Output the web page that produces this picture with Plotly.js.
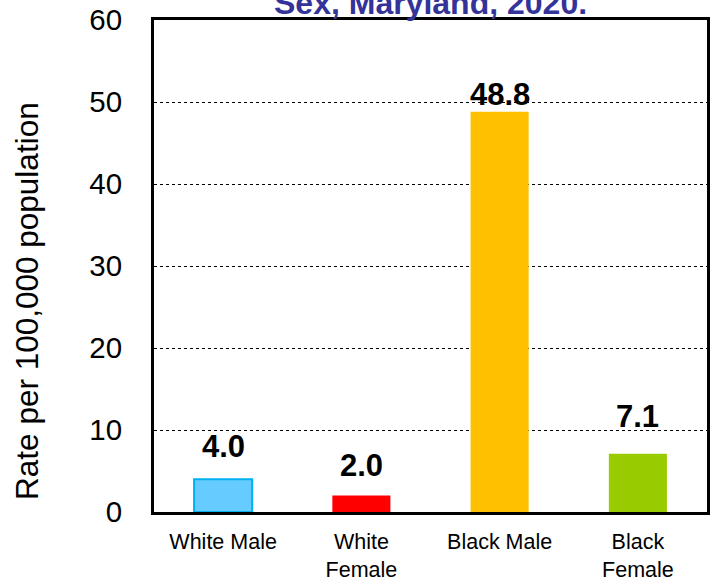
<!DOCTYPE html>
<html>
<head>
<meta charset="utf-8">
<script src="https://cdn.plot.ly/plotly-3.0.1.min.js"></script>
<style>html,body{margin:0;padding:0;background:#fff;}#chart{width:714px;height:579px;}</style>
</head>
<body>
<div id="chart"></div>
<script>
var categories = ["White Male", "White<br>Female", "Black Male", "Black<br>Female"];
var rates = [4.0, 2.0, 48.8, 7.1];
var rateLabels = ["4.0", "2.0", "48.8", "7.1"];
var yTickVals = [0, 10, 20, 30, 40, 50, 60];
var titleText = "Sex, Maryland, 2020.";
var yAxisTitle = "Rate per 100,000 population";

var fillColors = ["#66CCFF", "#FF0000", "#FFC000", "#99CC00"];
var lineColors = ["#00B0F0", "#FF0000", "#FFC000", "#99CC00"];
var lineWidths = [2, 0, 0, 0];
var labelShift = [13, 11, -2, 18];

var trace = {
  type: "bar",
  x: categories,
  y: rates,
  marker: {color: fillColors, line: {color: lineColors, width: lineWidths}},
  hoverinfo: "none"
};

var annotations = rates.map(function(v, i) {
  return {
    x: categories[i], y: v, xref: "x", yref: "y",
    text: "<b>" + rateLabels[i] + "</b>",
    showarrow: false, yanchor: "bottom", yshift: labelShift[i],
    font: {family: "Liberation Sans, Arial, sans-serif", size: 31, color: "#000"}
  };
});
annotations.push({
  xref: "paper", yref: "paper", x: 0.5, y: 1.034, yanchor: "middle",
  text: "<b>" + titleText + "</b>", showarrow: false,
  font: {family: "Liberation Sans, Arial, sans-serif", size: 32, color: "#333399"}
});
annotations.push({
  xref: "paper", yref: "paper", x: -0.265, y: 0.43, textangle: -90,
  text: yAxisTitle, showarrow: false,
  font: {family: "Liberation Sans, Arial, sans-serif", size: 31.5, color: "#000"}
});

var layout = {
  width: 714, height: 579,
  margin: {l: 154, r: 7, t: 20, b: 67, pad: 0},
  paper_bgcolor: "#fff", plot_bgcolor: "#fff",
  showlegend: false,
  bargap: 0.58,
  font: {family: "Liberation Sans, Arial, sans-serif", color: "#000"},
  xaxis: {
    showline: true, linecolor: "#000", linewidth: 3, mirror: true,
    showgrid: false, zeroline: false, ticks: "",
    tickfont: {size: 21.5, color: "#000"},
    ticklabelstandoff: 8, fixedrange: true
  },
  yaxis: {
    range: [0, 60], tickvals: yTickVals,
    showline: true, linecolor: "#000", linewidth: 3, mirror: true,
    showgrid: true, gridcolor: "#000", gridwidth: 1, griddash: "dot",
    zeroline: false, ticks: "",
    tickfont: {size: 29.5, color: "#000"},
    ticklabelstandoff: 23, fixedrange: true
  },
  annotations: annotations
};

Plotly.newPlot("chart", [trace], layout, {displayModeBar: false, staticPlot: true});
</script>
</body>
</html>
